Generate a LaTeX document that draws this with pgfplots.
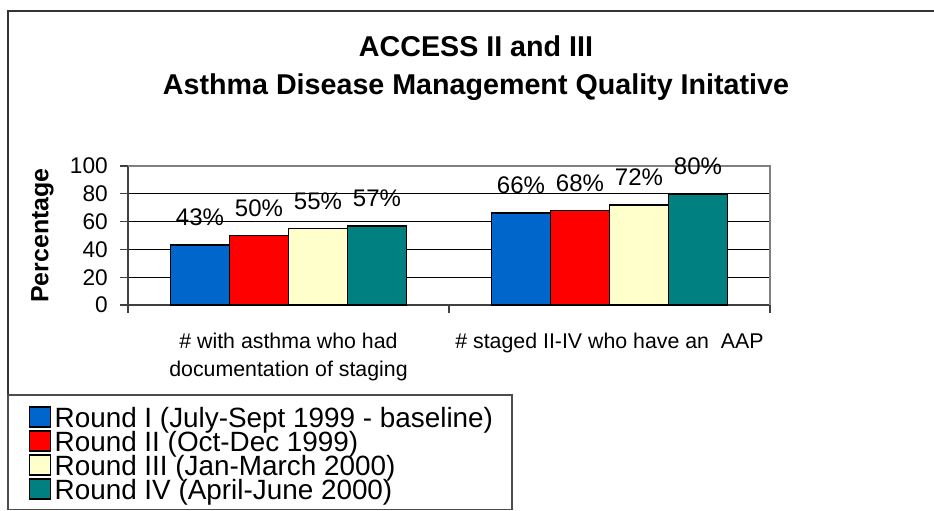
\documentclass[border=0pt]{standalone}
\usepackage{fontspec}
\setmainfont{Liberation Sans}
\usepackage{pgfplots}
\pgfplotsset{compat=1.18}
\definecolor{rblue}{RGB}{0,102,204}
\definecolor{rred}{RGB}{255,0,0}
\definecolor{rcream}{RGB}{255,255,204}
\definecolor{rteal}{RGB}{0,128,128}
\begin{document}
\begin{tikzpicture}
\useasboundingbox (0pt,0pt) rectangle (700.5pt,-382.5pt);
\draw[line width=1.2pt, black!80] (6pt,-382.5pt) -- (6pt,-8.25pt) -- (700.5pt,-8.25pt);
\node[anchor=base, font=\fontsize{21.5}{25}\selectfont\bfseries, inner sep=0pt] at (357pt,-42.75pt) {ACCESS II and III};
\node[anchor=base, font=\fontsize{21.5}{25}\selectfont\bfseries, inner sep=0pt] at (357pt,-70.5pt) {Asthma Disease Management Quality Initative};
\draw[line width=0.8pt, black!70] (6pt,-296.25pt) rectangle (384pt,-382pt);
\begin{axis}[
  at={(96pt,-228.75pt)}, anchor=south west,
  scale only axis, width=481.5pt, height=104.25pt,
  /pgf/number format/assume math mode=true,
  ybar=0pt, bar width=44.25pt,
  xmin=-0.5, xmax=1.5, ymin=0, ymax=100,
  axis x line*=bottom, axis y line*=left,
  axis line style={black!75, line width=0.8pt},
  ytick={0,20,40,60,80,100},
  tick align=outside, major tick length=6pt,
  tick style={black!75, line width=0.8pt},
  yticklabel style={font=\fontsize{17}{20}\selectfont, inner sep=0pt, xshift=-9pt},
  xtick={-0.5,0.5,1.5}, xticklabels={},
  extra x ticks={0,1},
  extra x tick labels={{\# with asthma who had\\documentation of staging},{\# staged II-IV who have an\ \ AAP}},
  extra x tick style={major tick length=0pt, grid=none,
    tick label style={align=center, font=\fontsize{16}{21}\selectfont, inner sep=0pt, yshift=-20.5pt}},
  ymajorgrids, major grid style={black, line width=0.6pt},
  ylabel={Percentage},
  ylabel style={at={(axis description cs:-0.124,0.5)}, anchor=base, font=\fontsize{18.7}{22}\selectfont\bfseries},
  clip=false,
  point meta=y,
  nodes near coords={\pgfmathprintnumber{\pgfplotspointmeta}\%},
  every node near coord/.append style={font=\fontsize{18}{21}\selectfont, anchor=base, inner sep=0pt, yshift=14.6pt, black},
  legend style={at={(axis description cs:-0.1542,-0.729)}, anchor=north west, draw=none, fill=none,
    inner sep=0pt, outer sep=0pt, row sep=-0.5pt, column sep=2.5pt,
    font=\fontsize{20.9}{18}\selectfont,
    nodes={inner sep=0pt, text height=15pt, text depth=3pt}},
  legend cell align=left,
  legend image code/.code={\draw[#1, line width=1pt] (0pt,-6pt) rectangle (15.75pt,9pt);},
]
\addplot[fill=rblue, draw=black, line width=1.3pt] coordinates {(0,43) (1,66)};
\addplot[fill=rred, draw=black, line width=1.3pt] coordinates {(0,50) (1,68)};
\addplot[fill=rcream, draw=black, line width=1.3pt] coordinates {(0,55) (1,72)};
\addplot[fill=rteal, draw=black, line width=1.3pt] coordinates {(0,57) (1,80)};
\legend{Round I (July-Sept 1999 - baseline),Round II (Oct-Dec 1999),Round III (Jan-March 2000),Round IV (April-June 2000)}
\draw[black!50, line width=1pt] (rel axis cs:0,1) -- (rel axis cs:1,1) -- (rel axis cs:1,0);
\end{axis}
\end{tikzpicture}
\end{document}
